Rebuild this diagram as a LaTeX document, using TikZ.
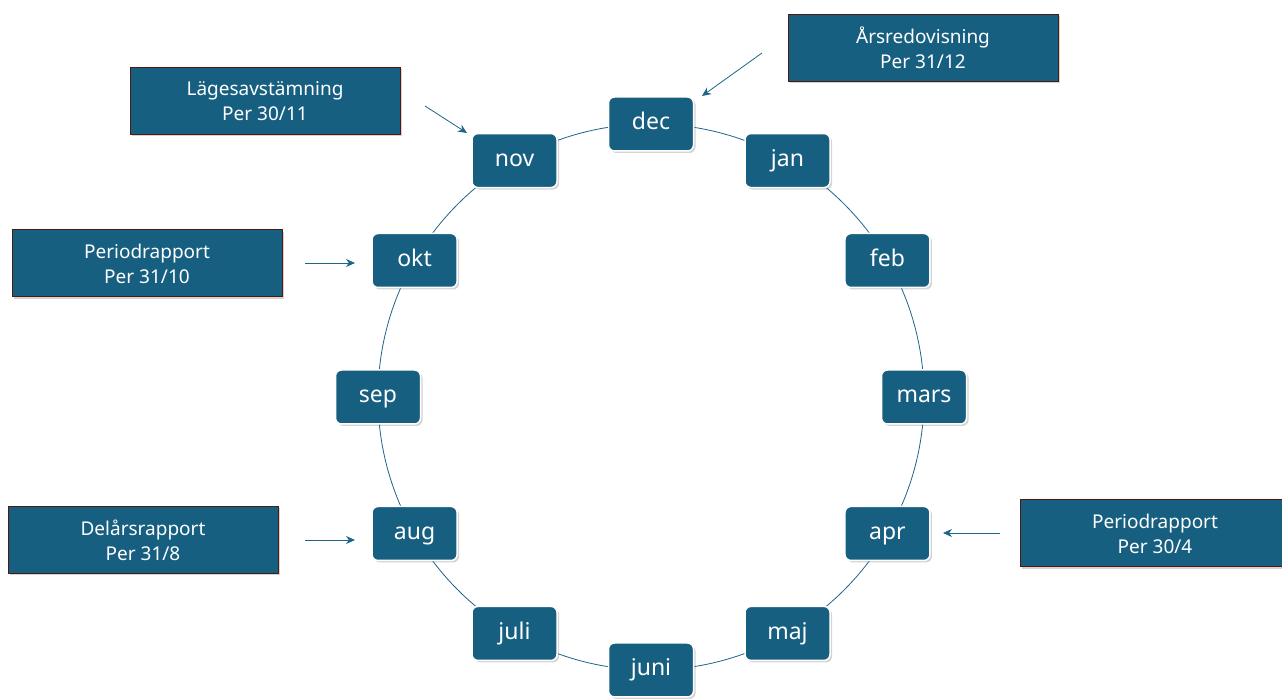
\documentclass[tikz,border=0pt]{standalone}
\usepackage{fontspec}
\setmainfont{Noto Sans}
\usetikzlibrary{arrows.meta,shadows}
\definecolor{boxblue}{RGB}{23,95,128}
\definecolor{ringblue}{RGB}{30,100,135}
\definecolor{callrim}{RGB}{80,25,15}
\tikzset{
  month/.style={draw=white, line width=1.5pt, fill=boxblue, rounded corners=6pt,
    minimum width=85pt, minimum height=54pt, text=white,
    text height=16pt, text depth=4pt,
    font=\fontsize{23}{27}\selectfont,
    drop shadow={shadow xshift=2pt, shadow yshift=-2pt, opacity=0.35}},
  callout/.style={draw=callrim, line width=1pt, fill=boxblue, text=white,
    minimum width=270pt, minimum height=67pt, align=center,
    font=\fontsize{19}{25}\selectfont,
    drop shadow={shadow xshift=2pt, shadow yshift=-2pt, opacity=0.35}},
  callarrow/.style={draw=ringblue, line width=0.8pt, -{Stealth[length=9pt,width=8pt]}}
}
\begin{document}
\begin{tikzpicture}[x=1pt, y=1pt]
    \useasboundingbox (0,0) rectangle (1282,700);
    \coordinate (C) at (651,303);

    % Ring behind the months
    \draw[ringblue, line width=0.8pt] (C) circle[radius=273];

    % Twelve months round the ring, dec at the top
    \foreach \m [count=\i from 0] in {dec,jan,feb,mars,apr,maj,juni,juli,aug,sep,okt,nov} {
        \node[month] (\m) at ([shift={(C)}]{90-30*\i}:273) {\m};
    }

    % Reporting callouts
    \node[callout] (ars)  at (923,652)   {Årsredovisning\\Per 31/12};
    \node[callout] (lage) at (265,599)   {Lägesavstämning\\Per 30/11};
    \node[callout] (okt-rap) at (147,436.5) {Periodrapport\\Per 31/10};
    \node[callout] (delar) at (143,160)  {Delårsrapport\\Per 31/8};
    \node[callout] (apr-rap) at (1155,166.5) {Periodrapport\\Per 30/4};

    % Arrow ends
    \coordinate (ars-t)  at (762,647);  \coordinate (ars-h)  at (702,604);
    \coordinate (lage-t) at (425,594);  \coordinate (lage-h) at (467,567);
    \coordinate (okt-t)  at (305,437);  \coordinate (okt-h)  at (355,437);
    \coordinate (del-t)  at (305,160);  \coordinate (del-h)  at (355,160);
    \coordinate (apr-t)  at (1000,167); \coordinate (apr-h)  at (943,167);

    \draw[callarrow] (ars-t) -- (ars-h);
    \draw[callarrow] (lage-t) -- (lage-h);
    \draw[callarrow] (okt-t) -- (okt-h);
    \draw[callarrow] (del-t) -- (del-h);
    \draw[callarrow] (apr-t) -- (apr-h);
\end{tikzpicture}
\end{document}
